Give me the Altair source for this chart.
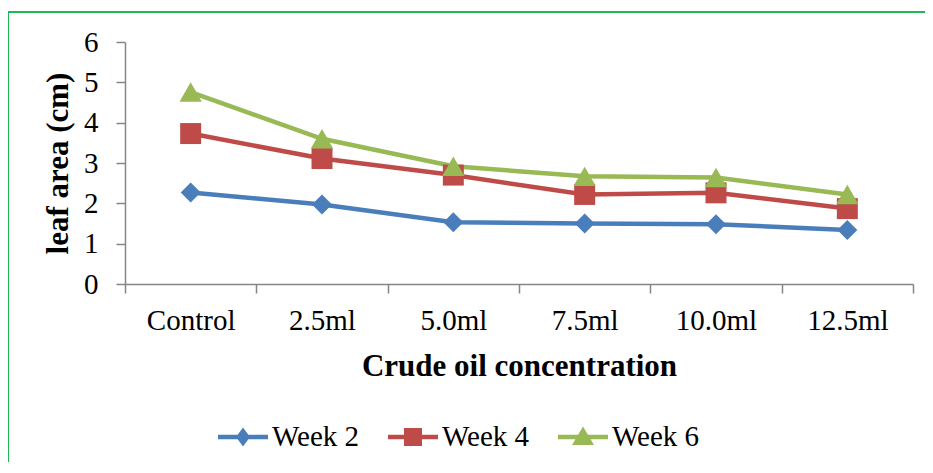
import altair as alt
import pandas as pd

categories = ["Control", "2.5ml", "5.0ml", "7.5ml", "10.0ml", "12.5ml"]
series_names = ["Week 2", "Week 4", "Week 6"]
week2 = [2.27, 1.97, 1.53, 1.50, 1.48, 1.34]
week4 = [3.73, 3.11, 2.70, 2.22, 2.26, 1.87]
week6 = [4.76, 3.60, 2.92, 2.67, 2.64, 2.22]
y_ticks = [0, 1, 2, 3, 4, 5, 6]

colors = ["#4A7EBB", "#BE4B48", "#98B954"]
marker_shapes = ["diamond", "square", "triangle-up"]
marker_sizes = [400, 440, 500]

rows = []
for name, vals in zip(series_names, [week2, week4, week6]):
    for c, v in zip(categories, vals):
        rows.append({"conc": c, "value": v, "series": name})
df = pd.DataFrame(rows)

FONT = "Liberation Serif, Times New Roman, serif"

x_enc = alt.X(
    "conc:N",
    sort=categories,
    scale=alt.Scale(type="band", paddingInner=0, paddingOuter=0),
    axis=alt.Axis(
        title="Crude oil concentration",
        labelAngle=0,
        tickBand="extent",
        labelFont=FONT,
        labelFontSize=29,
        labelColor="black",
        labelBaseline="alphabetic",
        labelPadding=36,
        tickSize=9,
        tickColor="#868686",
        domainColor="#868686",
        domainWidth=1.5,
        tickWidth=1.5,
        titleFont=FONT,
        titleFontSize=31,
        titleFontWeight="bold",
        titleColor="black",
        titleX=394,
        titleY=91,
        titleBaseline="alphabetic",
        grid=False,
    ),
)
y_enc = alt.Y(
    "value:Q",
    scale=alt.Scale(domain=[0, 6], nice=False, zero=True),
    axis=alt.Axis(
        title="leaf area (cm)",
        values=y_ticks,
        labelFont=FONT,
        labelFontSize=29,
        labelColor="black",
        labelPadding=18,
        tickSize=9,
        tickColor="#868686",
        domainColor="#868686",
        domainWidth=1.5,
        tickWidth=1.5,
        titleFont=FONT,
        titleFontSize=31,
        titleFontWeight="bold",
        titleColor="black",
        titleX=-67,
        titleY=121,
        titleAngle=270,
        titleBaseline="middle",
        grid=False,
    ),
)

legend_paths = [
    "M-1,-0.09H1V0.09H-1Z M0,-0.38L0.28,0L0,0.38L-0.28,0Z",
    "M-1,-0.09H1V0.09H-1Z M-0.36,-0.36H0.36V0.36H-0.36Z",
    "M-1,-0.09H1V0.09H-1Z M0,-0.42L0.44,0.32H-0.44Z",
]

leg = alt.Legend(
    title=None,
    orient="none",
    legendX=93,
    legendY=370,
    direction="horizontal",
    symbolSize=2500,
    symbolStrokeWidth=0,
    labelFont=FONT,
    labelFontSize=29,
    labelColor="black",
    labelOffset=4,
    columnPadding=28,
    padding=0,
)

base = alt.Chart(df)
one = pd.DataFrame({"a": [0]})

layers = []
# chart-area frame: only the top and left edges fall inside the picture
layers.append(
    alt.Chart(one).mark_rule(stroke="#1DB954", strokeWidth=2).encode(
        x=alt.value(-117), y=alt.value(-30), y2=alt.value(440)
    )
)
layers.append(
    alt.Chart(one).mark_rule(stroke="#1DB954", strokeWidth=2).encode(
        x=alt.value(-118), x2=alt.value(800), y=alt.value(-30)
    )
)

for name, col in zip(series_names, colors):
    sub = base.transform_filter(alt.datum.series == name)
    layers.append(sub.mark_line(strokeWidth=4.5, color=col).encode(x=x_enc, y=y_enc))
for name, col, shp, sz in zip(series_names, colors, marker_shapes, marker_sizes):
    sub = base.transform_filter(alt.datum.series == name)
    layers.append(
        sub.mark_point(filled=True, opacity=1, strokeWidth=0, color=col, shape=shp, size=sz)
        .encode(x=x_enc, y=y_enc)
    )

legend_layer = base.transform_filter("false").mark_point(filled=True, opacity=1).encode(
    x=x_enc, y=y_enc,
    color=alt.Color("series:N", scale=alt.Scale(domain=series_names, range=colors), legend=leg),
    shape=alt.Shape("series:N", scale=alt.Scale(domain=series_names, range=legend_paths), legend=leg),
)
layers.append(legend_layer)

chart = alt.layer(*layers).properties(
    width=788,
    height=242,
    padding={"left": 117, "top": 34, "right": 12, "bottom": 178},
    autosize=alt.AutoSizeParams(type="none"),
).configure(background="white", view=alt.ViewConfig(strokeWidth=0, stroke="transparent"))

chart.save("out.html", embed_options={"renderer": "svg", "actions": False})
